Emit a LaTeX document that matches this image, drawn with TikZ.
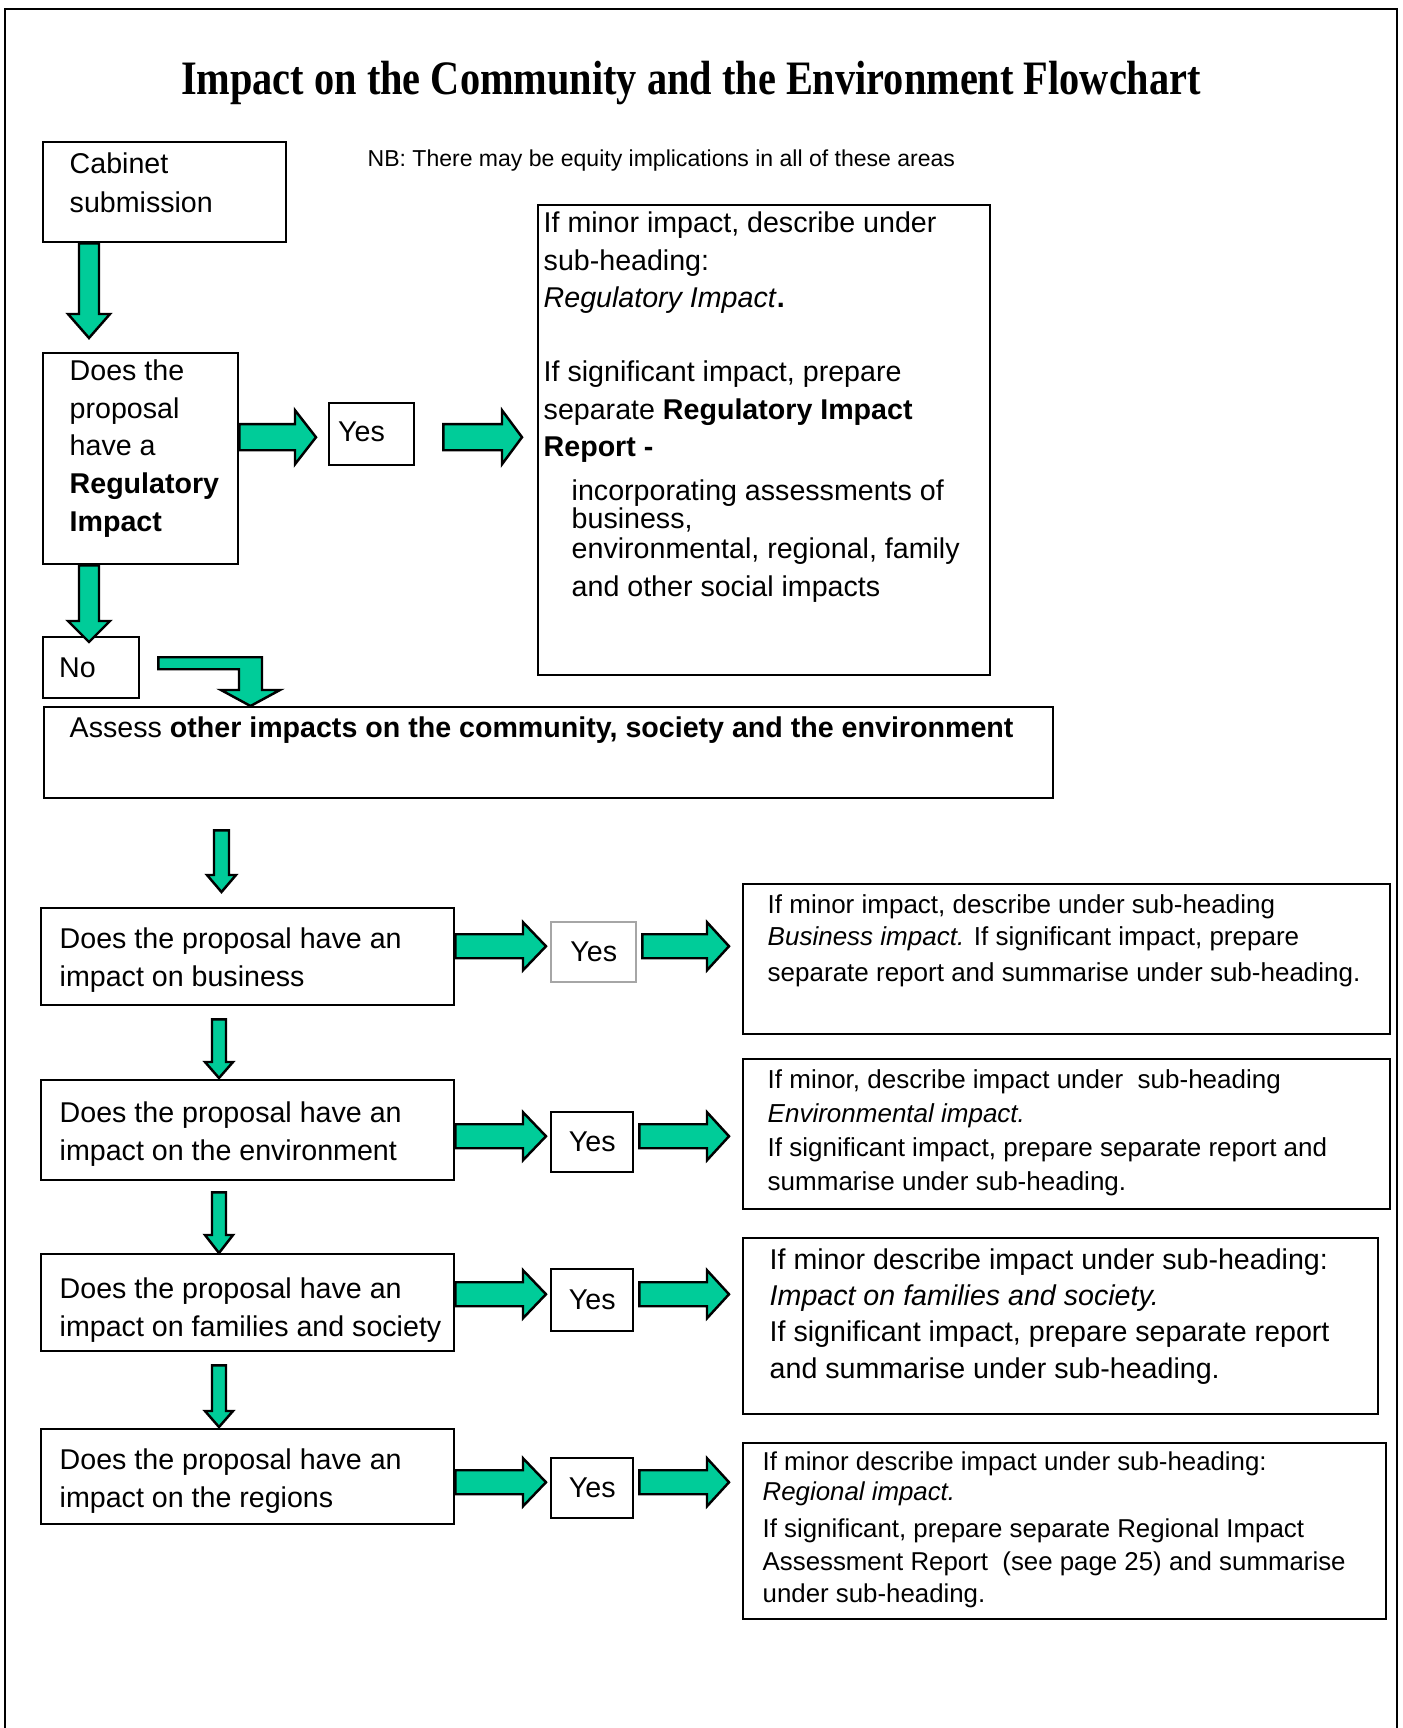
\documentclass[tikz,border=0pt]{standalone}
\usepackage{fontspec}
\usepackage{graphicx}
\setmainfont{Liberation Sans}
\newfontfamily\serifhead{Liberation Serif}
\usetikzlibrary{calc}

\definecolor{arrowgreen}{RGB}{0,204,153}

\newcommand{\flowfont}{\fontsize{8.14pt}{10.75pt}\selectfont}
\newcommand{\flowsmallfont}{\fontsize{7.4pt}{9.7pt}\selectfont}
\newcommand{\flownotefont}{\fontsize{6.55pt}{8pt}\selectfont}
\newcommand{\flowtitlefont}{\serifhead\bfseries\fontsize{13.66pt}{16pt}\selectfont}

% block arrows: start, tip, half shaft, half head, head length
\newcommand{\blockright}[5]{%
  \draw[blockarrow] ($(#1)+(0,-#3)$) -- ($(#2)+(-#5,-#3)$) -- ($(#2)+(-#5,-#4)$) -- (#2)
    -- ($(#2)+(-#5,#4)$) -- ($(#2)+(-#5,#3)$) -- ($(#1)+(0,#3)$) -- cycle;}
\newcommand{\blockdown}[5]{%
  \draw[blockarrow] ($(#1)+(-#3,0)$) -- ($(#2)+(-#3,-#5)$) -- ($(#2)+(-#4,-#5)$) -- (#2)
    -- ($(#2)+(#4,-#5)$) -- ($(#2)+(#3,-#5)$) -- ($(#1)+(#3,0)$) -- cycle;}

\begin{document}
\begin{tikzpicture}[x=0.1mm, y=-0.1mm,
    box/.style={draw, line width=0.7pt, anchor=north west, inner sep=0},
    txt/.style={anchor=north west, inner sep=0, align=left, font=\flowfont},
    answer/.style={draw, line width=0.7pt, anchor=north west, inner sep=0, font=\flowfont},
    blockarrow/.style={draw, fill=arrowgreen, line width=0.7pt, line join=miter}]

    \useasboundingbox (0,0) rectangle (1402,1728);

    % page frame
    \draw[line width=0.6pt] (5,1728) -- (5,9) -- (1397,9) -- (1397,1728);

    % title and note
    \node[anchor=base, inner sep=0] (title) at (691,95)
        {\scalebox{0.84}[1]{\flowtitlefont Impact on the Community and the Environment Flowchart}};
    \node[anchor=west, inner sep=0, font=\flownotefont] (note) at (367,161)
        {NB: There may be equity implications in all of these areas};

    % regulatory part
    \node[box, minimum width=24.3mm, minimum height=10mm] (cab) at (42,141) {};
    \node[txt, font=\fontsize{8.14pt}{11.1pt}\selectfont] (cabtxt) at (69,152) {Cabinet\\submission};

    \node[box, minimum width=19.5mm, minimum height=21.1mm] (reg) at (42,352) {};
    \node[txt] (regtxt) at (69,359) {Does the\\proposal\\have a\\\textbf{Regulatory}\\\textbf{Impact}};

    \node[answer, text width=6.7mm, align=left, minimum width=8.5mm, minimum height=6.2mm] (yesA) at (328,402)
        {\raisebox{1.2pt}{Yes}};

    \node[box, minimum width=45.2mm, minimum height=47mm] (regd) at (537,204) {};
    \node[txt] (regdtxt) at (543,211) {If minor impact, describe under\\sub-heading:\\
        \textit{Regulatory Impact}\textbf{.}\\[10.1pt]
        If significant impact, prepare\\separate \textbf{Regulatory Impact}\\\textbf{Report -}\\[1.6pt]
        \hspace*{2.8mm}incorporating assessments of\\[-2.7pt]
        \hspace*{2.8mm}business,\\[-2.1pt]
        \hspace*{2.8mm}environmental, regional, family\\
        \hspace*{2.8mm}and other social impacts};

    \node[answer, text width=6.4mm, align=left, minimum width=9.6mm, minimum height=6.1mm] (no) at (42,636) {No};

    \node[box, minimum width=100.9mm, minimum height=9.1mm] (assess) at (43,706) {};
    \node[txt] (assesstxt) at (69,716)
        {Assess \textbf{other impacts on the community, society and the environment}};

    % business
    \node[box, minimum width=41.3mm, minimum height=9.7mm] (qbus) at (40,907) {};
    \node[txt] (qbustxt) at (59,927) {Does the proposal have an\\impact on business};
    \node[answer, draw=gray!70, minimum width=8.5mm, minimum height=6mm] (yesbus) at (550,921) {Yes};
    \node[box, minimum width=64.7mm, minimum height=15mm] (dbus) at (742,883) {};
    \node[txt, font=\flowsmallfont] (dbustxt) at (767,894) {If minor impact, describe under sub-heading\\[-0.6pt]
        \textit{Business impact.} If significant impact, prepare\\[0.5pt]
        separate report and summarise under sub-heading.};

    % environment
    \node[box, minimum width=41.3mm, minimum height=10mm] (qenv) at (40,1079) {};
    \node[txt] (qenvtxt) at (59,1101) {Does the proposal have an\\impact on the environment};
    \node[answer, minimum width=8.2mm, minimum height=6mm] (yesenv) at (550,1111) {Yes};
    \node[box, minimum width=64.7mm, minimum height=15mm] (denv) at (742,1058) {};
    \node[txt, font=\flowsmallfont] (denvtxt) at (767,1069) {If minor, describe impact under \ sub-heading\\
        \textit{Environmental impact.}\\
        If significant impact, prepare separate report and\\
        summarise under sub-heading.};

    % families
    \node[box, minimum width=41.3mm, minimum height=9.7mm] (qfam) at (40,1253) {};
    \node[txt] (qfamtxt) at (59,1277) {Does the proposal have an\\impact on families and society};
    \node[answer, minimum width=8.2mm, minimum height=6.2mm] (yesfam) at (550,1268) {Yes};
    \node[box, minimum width=63.5mm, minimum height=17.6mm] (dfam) at (742,1237) {};
    \node[txt, font=\fontsize{8.14pt}{10.3pt}\selectfont] (dfamtxt) at (769,1248)
        {If minor describe impact under sub-heading:\\
        \textit{Impact on families and society.}\\
        If significant impact, prepare separate report\\
        and summarise under sub-heading.};

    % regions
    \node[box, minimum width=41.3mm, minimum height=9.5mm] (qreg) at (40,1428) {};
    \node[txt] (qregtxt) at (59,1448) {Does the proposal have an\\impact on the regions};
    \node[answer, minimum width=8.2mm, minimum height=6mm] (yesreg) at (550,1457) {Yes};
    \node[box, minimum width=64.3mm, minimum height=17.6mm] (dreg) at (742,1442) {};
    \node[txt, font=\fontsize{7.35pt}{9.4pt}\selectfont] (dregtxt) at (762,1451)
        {If minor describe impact under sub-heading:\\[-0.9pt]
        \textit{Regional impact.}\\[1.1pt]
        If significant, prepare separate Regional Impact\\
        Assessment Report \ (see page 25) and summarise\\[-0.3pt]
        under sub-heading.};

    % arrows, top part
    \coordinate (c1s) at ($(cab.south west)+(47,0)$);
    \coordinate (c1t) at ($(reg.north west)+(47,-14)$);
    \blockdown{c1s}{c1t}{10}{21}{24}
    \coordinate (r1s) at ($(reg.east |- yesA.center)+(0,3)$);
    \coordinate (r1t) at ($(yesA.west)+(-12,3)$);
    \blockright{r1s}{r1t}{13}{27}{21}
    \coordinate (r2s) at ($(yesA.east)+(28,3)$);
    \coordinate (r2t) at ($(yesA.east -| regd.west)+(-15,3)$);
    \blockright{r2s}{r2t}{13}{27}{20}
    \coordinate (n1s) at ($(reg.south west)+(47,0)$);
    \coordinate (n1t) at ($(no.north west)+(47,6)$);
    \blockdown{n1s}{n1t}{10}{21}{21}

    % bent arrow from No
    \coordinate (b0s) at ($(no.east)+(18,-4.5)$);
    \coordinate (b0t) at ($(assess.north west)+(207.5,0)$);
    \draw[blockarrow] ($(b0s)+(0,-6)$) -- ($(b0s -| b0t)+(11.5,-6)$) -- ($(b0t)+(11.5,-16)$)
        -- ($(b0t)+(29.5,-16)$) -- (b0t) -- ($(b0t)+(-29.5,-16)$) -- ($(b0t)+(-11.5,-16)$)
        -- ($(b0s -| b0t)+(-11.5,6)$) -- ($(b0s)+(0,6)$) -- cycle;

    % arrows down the questions
    \coordinate (d1s) at ($(assess.south west)+(178.5,31)$);
    \coordinate (d1t) at ($(qbus.north west)+(181.5,-15)$);
    \blockdown{d1s}{d1t}{7.5}{14.5}{17}
    \coordinate (d2s) at ($(qbus.south west)+(179,13)$);
    \coordinate (d2t) at ($(qenv.north west)+(179,-1)$);
    \blockdown{d2s}{d2t}{7}{14}{16}
    \coordinate (d3s) at ($(qenv.south west)+(179,11)$);
    \coordinate (d3t) at (qfam.north west -| d3s);
    \blockdown{d3s}{d3t}{7}{14}{18}
    \coordinate (d4s) at ($(qfam.south west)+(179,13)$);
    \coordinate (d4t) at ($(qreg.north west)+(179,-1)$);
    \blockdown{d4s}{d4t}{7}{14}{16}

    % arrows to the Yes boxes and answers
    \foreach \row in {bus,env,fam,reg} {
        \coordinate (y1s\row) at ($(q\row.east |- yes\row.center)+(0,-6)$);
        \coordinate (y1t\row) at ($(yes\row.west)+(-4,-6)$);
        \blockright{y1s\row}{y1t\row}{12}{24}{23}
        \coordinate (y2s\row) at ($(yes\row.east)+(5,-6)$);
        \coordinate (y2t\row) at ($(yes\row.east -| d\row.west)+(-13,-6)$);
        \blockright{y2s\row}{y2t\row}{12}{24}{22}
    }

\end{tikzpicture}
\end{document}
